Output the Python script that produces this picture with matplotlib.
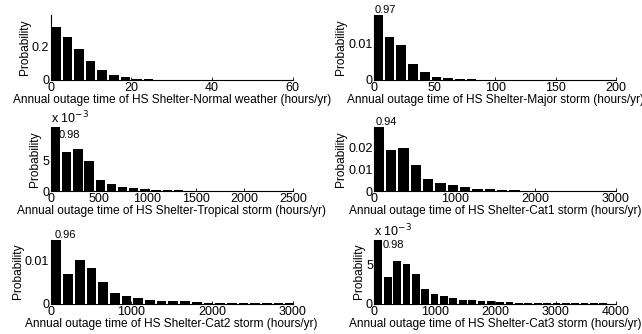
import numpy as np
import matplotlib
matplotlib.use('Agg')
import matplotlib.pyplot as plt
from matplotlib.ticker import FuncFormatter

plt.rcParams['font.family'] = ['Liberation Sans', 'DejaVu Sans']

# histogram data (probability per bin)
titles = ['Normal weather', 'Major storm', 'Tropical storm',
          'Cat1 storm', 'Cat2 storm', 'Cat3 storm']

# first bin centre and bin width (hours/yr)
bin_start = [1.3, 2.9, 50, 58, 69, 66]
bin_width = [2.87, 9.7, 115.4, 153, 145, 155.2]

normal_weather = [0.32, 0.256, 0.186, 0.114, 0.062, 0.028, 0.016, 0.006, 0.003, 0.002,
                  0.0015, 0.001, 0.001, 0.001, 0.0008, 0.0006, 0.0005, 0.0004, 0.0003, 0.0003]
major_storm = [0.97, 0.0118, 0.0094, 0.0044, 0.0022, 0.0009, 0.0005, 0.0002, 0.00015, 0.0001,
               0.0001, 0.0001, 0.00008, 0.00006, 0.00005, 0.00005, 0.00004, 0.00003, 0.00003, 0.00002]
tropical_storm = [0.98, 6.36e-3, 6.74e-3, 4.84e-3, 1.74e-3, 1.09e-3, 0.71e-3, 0.43e-3, 0.33e-3,
                  0.22e-3, 0.16e-3, 0.10e-3, 0.06e-3, 0.05e-3, 0.04e-3, 0.03e-3, 0.03e-3,
                  0.02e-3, 0.02e-3, 0.01e-3, 0.01e-3]
cat1_storm = [0.94, 0.0189, 0.0195, 0.0120, 0.0053, 0.0039, 0.0026, 0.0017, 0.0011, 0.0009,
              0.0005, 0.0003, 0.0002, 0.00015, 0.0001, 0.0001, 0.00008, 0.00006, 0.00005, 0.00004]
cat2_storm = [0.96, 0.0070, 0.0101, 0.0083, 0.0050, 0.0024, 0.0017, 0.0014, 0.0009, 0.0007,
              0.0006, 0.0005, 0.0003, 0.0002, 0.00015, 0.0001, 0.0001, 0.0001, 0.00008,
              0.00006, 0.00005]
cat3_storm = [0.98, 3.45e-3, 5.55e-3, 5.13e-3, 3.78e-3, 1.89e-3, 1.26e-3, 0.92e-3, 0.76e-3,
              0.50e-3, 0.46e-3, 0.34e-3, 0.29e-3, 0.20e-3, 0.16e-3, 0.12e-3, 0.10e-3,
              0.08e-3, 0.06e-3, 0.05e-3, 0.04e-3, 0.04e-3, 0.03e-3, 0.03e-3, 0.02e-3]
all_probs = [normal_weather, major_storm, tropical_storm, cat1_storm, cat2_storm, cat3_storm]

# axis settings
x_max = [60, 200, 2500, 3000, 3000, 4000]
x_ticks = [[0, 20, 40, 60], [0, 50, 100, 150, 200], [0, 500, 1000, 1500, 2000, 2500],
           [0, 1000, 2000, 3000], [0, 1000, 2000, 3000], [0, 1000, 2000, 3000, 4000]]
y_max = [0.39, 0.0177, 0.0103, 0.0292, 0.0150, 0.00828]
y_ticks = [[0, 0.2], [0, 0.01], [0, 0.005], [0, 0.01, 0.02], [0, 0.01], [0, 0.005]]
scaled = [False, False, True, False, False, True]

# where the clipped first-bar value is written (axes fraction)
note_pos = [None, (0.003, 1.0, 'bottom'), (0.034, 0.874, 'center'),
            (0.007, 1.0, 'bottom'), (0.018, 1.0, 'bottom'), (0.036, 0.907, 'center')]

# axes rectangles [left, bottom, width, height]
boxes = [[0.079, 0.7605, 0.377, 0.1946], [0.583, 0.7605, 0.3765, 0.1946],
         [0.079, 0.4281, 0.377, 0.1907], [0.583, 0.4281, 0.3765, 0.1907],
         [0.079, 0.0913, 0.377, 0.1916], [0.583, 0.0913, 0.3765, 0.1916]]

fig = plt.figure(figsize=(6.42, 3.34), dpi=100)

for i in range(6):
    ax = fig.add_axes(boxes[i])
    probs = all_probs[i]
    centers = bin_start[i] + bin_width[i] * np.arange(len(probs))
    ax.bar(centers, probs, width=bin_width[i] * 0.83, color='black', edgecolor='none', zorder=2)

    ax.set_xlim(0, x_max[i])
    ax.set_ylim(0, y_max[i])
    ax.set_xticks(x_ticks[i])
    ax.set_yticks(y_ticks[i])
    if scaled[i]:
        ax.yaxis.set_major_formatter(FuncFormatter(lambda v, p: '%g' % round(v * 1e3, 6)))
        ax.text(0, 1.01, r'x 10$^{-3}$', transform=ax.transAxes, ha='left', va='bottom',
                fontsize=9)
    else:
        ax.yaxis.set_major_formatter(FuncFormatter(lambda v, p: '%g' % v))

    for s in ['top', 'right']:
        ax.spines[s].set_visible(False)
    for s in ['left', 'bottom']:
        ax.spines[s].set_linewidth(0.8)
    ax.tick_params(direction='in', length=2.5, width=0.6, labelsize=9)
    ax.tick_params(axis='x', pad=1.5)
    ax.tick_params(axis='y', pad=1)

    ax.set_xlabel('Annual outage time of HS Shelter-%s (hours/yr)' % titles[i],
                  fontsize=8.6, labelpad=0)
    ax.set_ylabel('Probability', fontsize=8.6, labelpad=1)

    if note_pos[i] is not None:
        nx, ny, va = note_pos[i]
        ax.text(nx, ny, '%.2f' % probs[0], transform=ax.transAxes, ha='left', va=va,
                fontsize=8, zorder=1, clip_on=False)

fig.savefig('out.png', dpi=100)
